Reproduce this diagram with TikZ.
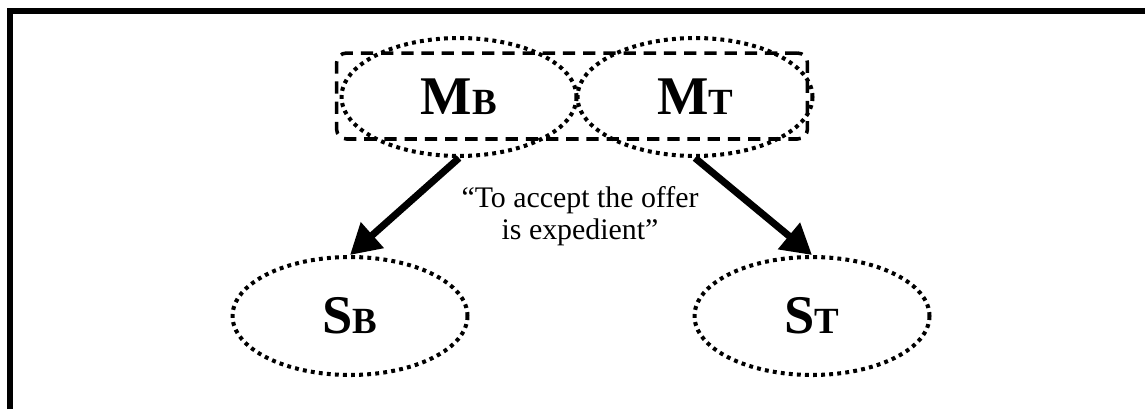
\documentclass[tikz,border=0pt]{standalone}
\usepackage{fontspec}
\setmainfont{Liberation Serif}
\usepackage{tikz}
\usetikzlibrary{arrows.meta, positioning, shapes.geometric}
\newcommand{\idx}[1]{{\fontsize{21}{22}\selectfont #1}}

\begin{document}
\begin{tikzpicture}[x=0.02cm, y=-0.02cm,
    party/.style={ellipse, draw, line width=2.3pt, dash pattern=on 2.2pt off 2.4pt,
      minimum width=4.7cm, minimum height=2.36cm, inner sep=0pt,
      font=\fontsize{31}{32}\selectfont\bfseries},
    groupbox/.style={draw, line width=2pt, dash pattern=on 7pt off 4.5pt,
      rounded corners=0.2cm, minimum width=9.42cm, minimum height=1.72cm},
    claim/.style={-{Triangle[length=0.6cm, width=0.66cm]}, line width=4pt}]
                \useasboundingbox (0,0) rectangle (1145,409);
                % frame, only top and left edges visible
                \draw[line width=3.4pt] (10,409) -- (10,11) -- (1145,11);

                % the two speakers and their group
                \node[party] (mb) at (459,97) {M\idx{B}};
                \node[party] (mt) at (695,97) {M\idx{T}};
                \node[groupbox] (bosses) at (572,96) {};

                % the two hearers
                \node[party] (sb) at (350,316) {S\idx{B}};
                \node[party] (st) at (812,316) {S\idx{T}};

                \draw[claim] (mb.south) -- (sb.north);
                \draw[claim] (mt.south) -- (st.north);
                \node[font=\fontsize{17}{18.5}\selectfont, align=center] (offer) at (580,216)
                    {“To accept the offer\\is expedient”};
            \end{tikzpicture}
\end{document}
